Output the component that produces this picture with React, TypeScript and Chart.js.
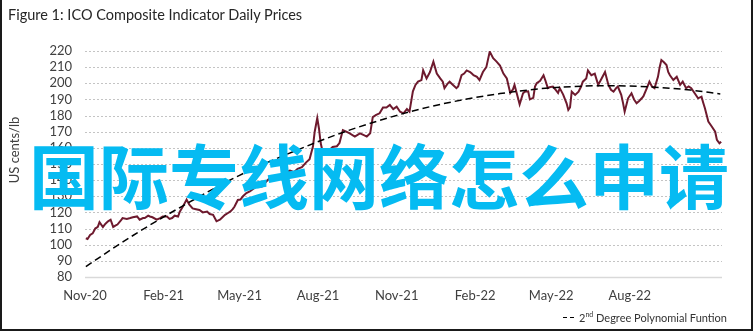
import React, { useEffect, useRef } from "react";
import { Chart, registerables } from "chart.js";

Chart.register(...registerables);

// x values are days since 1 Nov 2020
const priceDays = [
  1, 3, 6, 9, 12, 15, 17, 21, 24, 27, 30, 33, 36, 38, 42, 44, 49, 53, 56, 61,
  64, 68, 70, 74, 76, 79, 84, 88, 91, 96, 99, 102, 105, 109, 111, 115, 119, 122, 126, 130,
  134, 138, 143, 146, 150, 154, 158, 161, 164, 167, 170, 173, 175, 179, 182, 185, 189, 193, 198, 202,
  207, 212, 216, 221, 226, 230, 235, 240, 245, 249, 254, 259, 263, 267, 269, 272, 274, 276, 279, 282,
  287, 290, 295, 298, 302, 306, 310, 316, 322, 326, 330, 334, 337, 341, 345, 349, 353, 357, 361, 365,
  369, 373, 377, 380, 384, 387, 390, 394, 396, 400, 404, 408, 412, 416, 419, 421, 425, 427, 431, 435,
  437, 441, 444, 447, 451, 453, 455, 459, 462, 466, 470, 474, 478, 482, 486, 490, 494, 498, 501, 503,
  506, 509, 513, 515, 519, 521, 525, 527, 529, 533, 537, 539, 542, 544, 548, 551, 554, 556, 560, 564,
  566, 568, 570, 574, 578, 581, 583, 587, 589, 593, 597, 601, 605, 609, 613, 616, 619, 622, 624, 628,
  630, 632, 636, 640, 643, 646, 649, 652, 654, 658, 661, 664, 667, 671, 673, 675, 678, 681, 683, 685,
  689, 693, 697, 700, 704, 707, 710, 714, 718, 722, 724, 726, 730, 734, 738, 740, 743, 745,
];

const priceValues = [
  104, 103.5, 106, 107, 110, 111, 114, 111, 113, 114.5, 115.5, 111, 112, 112.5, 115, 116.5, 116, 116.5, 117, 117.5,
  115.5, 116.5, 116.5, 118, 117.5, 117, 115.5, 116.5, 117.5, 117.5, 116, 116.5, 118, 117.5, 120.5, 124, 128, 125, 122.5, 122,
  121.5, 120, 120.5, 119, 118.5, 114.5, 115.5, 117, 118.5, 119.5, 120.5, 122, 123.5, 127.7, 128, 130, 132, 133, 135, 137,
  136, 139, 141, 140, 143, 142, 145, 146, 145, 147, 148, 151, 153, 161, 170, 178.5, 172, 163, 156, 157,
  159, 160.5, 161, 163, 171, 170, 169, 167, 169, 168, 167, 169, 179, 180.4, 181.4, 185, 185, 186.6, 184, 185.5,
  182.4, 181.4, 184, 182.4, 195, 199, 201, 202, 208, 203, 207, 213.4, 206, 203, 201, 197, 200, 201, 199, 197,
  198, 205, 206, 208, 207, 206, 205, 204, 202, 207, 210, 219.6, 215.5, 213.4, 211, 206, 203, 194, 196, 199,
  193, 187, 193.8, 194.8, 195, 190, 191, 198, 200, 201.5, 205, 202, 197, 197.5, 198, 196, 194, 197, 193, 187.6,
  183.5, 185, 194.8, 192.8, 194.8, 198, 201, 203, 208, 205, 206, 199, 203, 207, 199, 196, 194.8, 197, 198, 192.8,
  188, 182.4, 190.7, 193.8, 190, 187.6, 189, 190.7, 192, 197, 201, 198, 197, 204, 210, 214.4, 213, 211.3, 207, 205,
  202, 204, 199, 201, 197, 198, 197, 193.8, 190.7, 191.7, 188, 184.5, 176.3, 173.2, 170, 165, 162.8, 163.8,
];

// dashed 2nd-degree trend
const trendDays = [1, 31, 64, 119, 181, 252, 306, 380, 433, 486, 544, 613, 661, 709, 744];
const trendValues = [86.4, 97.1, 108.3, 125.4, 143, 159.4, 170.3, 182.3, 188.8, 193.6, 197.1, 198.5, 197.8, 195.8, 193.4];

const tickDays = [0, 92, 181, 273, 365, 457, 546, 638];
const tickLabels = ["Nov-20", "Feb-21", "May-21", "Aug-21", "Nov-21", "Feb-22", "May-22", "Aug-22"];

const yMin = 80;
const yMax = 220;
const yStep = 10;
const xMin = 0;
const xMax = 746;

const titleText = "Figure 1: ICO Composite Indicator Daily Prices";
const yTitle = "US cents/lb";
const seriesName = "ICO Composite Indicator";
const trendName = "2nd Degree Polynomial Funtion";
const watermark = "国际专线网络怎么申请";

const FONT = "Lato, 'Open Sans', sans-serif";

const gridPlugin = {
  id: "dottedGrid",
  beforeDatasetsDraw(chart: any) {
    const { ctx, chartArea, scales } = chart;
    const y = scales.y;
    ctx.save();
    y.ticks.forEach((t: any) => {
      const py = Math.round(y.getPixelForValue(t.value)) + 0.5;
      ctx.beginPath();
      if (t.value === yMin) {
        ctx.setLineDash([]);
        ctx.strokeStyle = "#d9d9d9";
        ctx.lineWidth = 1.5;
      } else {
        ctx.setLineDash([2, 2]);
        ctx.strokeStyle = "#c4c4c4";
        ctx.lineWidth = 1;
      }
      ctx.moveTo(chartArea.left, py);
      ctx.lineTo(chartArea.right, py);
      ctx.stroke();
    });
    ctx.restore();
  },
};

function PriceChart() {
  const ref = useRef<HTMLCanvasElement | null>(null);
  useEffect(() => {
    if (!ref.current) return;
    const chart = new Chart(ref.current, {
      type: "line",
      data: {
        datasets: [
          {
            label: trendName,
            data: trendDays.map((d, i) => ({ x: d, y: trendValues[i] })),
            borderColor: "#000000",
            borderWidth: 1.5,
            borderDash: [7, 4],
            pointRadius: 0,
            cubicInterpolationMode: "monotone",
            fill: false,
          },
          {
            label: seriesName,
            data: priceDays.map((d, i) => ({ x: d, y: priceValues[i] })),
            borderColor: "#6e1a2e",
            borderWidth: 2,
            pointRadius: 0,
            tension: 0,
            fill: false,
          },
        ],
      },
      options: {
        animation: false,
        responsive: false,
        maintainAspectRatio: false,
        layout: { padding: { left: 0, right: 33, top: 51, bottom: 0 } },
        plugins: { legend: { display: false }, tooltip: { enabled: false }, title: { display: false } },
        scales: {
          x: {
            type: "linear",
            min: xMin,
            max: xMax,
            grid: { display: false, drawTicks: false },
            border: { display: false },
            afterBuildTicks: (s: any) => {
              s.ticks = tickDays.map((v) => ({ value: v }));
            },
            afterFit: (s: any) => {
              s.height = 56;
            },
            ticks: {
              autoSkip: false,
              maxRotation: 0,
              minRotation: 0,
              padding: 11,
              color: "#404040",
              font: { family: FONT, size: 13 },
              callback: (v: any) => tickLabels[tickDays.indexOf(Number(v))] ?? "",
            },
          },
          y: {
            min: yMin,
            max: yMax,
            grid: { display: false, drawTicks: false },
            border: { display: false },
            afterFit: (s: any) => {
              s.width = 85;
            },
            ticks: {
              stepSize: yStep,
              autoSkip: false,
              padding: 13,
              color: "#404040",
              font: { family: FONT, size: 13 },
            },
          },
        },
      },
      plugins: [gridPlugin],
    } as any);
    return () => chart.destroy();
  }, []);
  return <canvas ref={ref} width={755} height={333} style={{ position: "absolute", left: 0, top: 0, width: 755, height: 333 }} />;
}

export default function App() {
  return (
    <div style={{ position: "fixed", left: 0, top: 0, width: 755, height: 333, background: "#fff", overflow: "hidden", fontFamily: FONT }}>
      <PriceChart />
      <div
        style={{
          position: "absolute",
          left: 0,
          top: -3,
          width: 753,
          height: 334,
          boxSizing: "border-box",
          border: "2px solid #1a1a1a",
          pointerEvents: "none",
        }}
      />
      <div style={{ position: "absolute", left: 8, top: 6, fontSize: 14.5, color: "#262626", whiteSpace: "nowrap" }}>{titleText}</div>
      <div
        style={{
          position: "absolute",
          left: 14,
          top: 150,
          transform: "translate(-50%, -50%) rotate(-90deg)",
          fontSize: 13,
          color: "#404040",
          whiteSpace: "nowrap",
        }}
      >
        {yTitle}
      </div>
      <div
        style={{
          position: "absolute",
          right: 28,
          top: 311,
          fontSize: 11,
          color: "#333",
          whiteSpace: "nowrap",
          display: "flex",
          alignItems: "center",
          gap: 3,
        }}
      >
        <span style={{ display: "inline-block", width: 4, height: 1.5, background: "#000" }} />
        <span style={{ display: "inline-block", width: 4, height: 1.5, background: "#000", marginRight: 2 }} />
        <span>
          2<sup style={{ fontSize: 7, verticalAlign: "super", lineHeight: 0 }}>nd</sup> Degree Polynomial Funtion
        </span>
      </div>
      <div
        style={{
          position: "absolute",
          left: 29,
          top: 139,
          fontSize: 70,
          lineHeight: "70px",
          fontWeight: 700,
          fontFamily: "'Noto Sans CJK SC', sans-serif",
          color: "#05bbf2",
          whiteSpace: "nowrap",
          pointerEvents: "none",
        }}
      >
        {watermark}
      </div>
    </div>
  );
}
